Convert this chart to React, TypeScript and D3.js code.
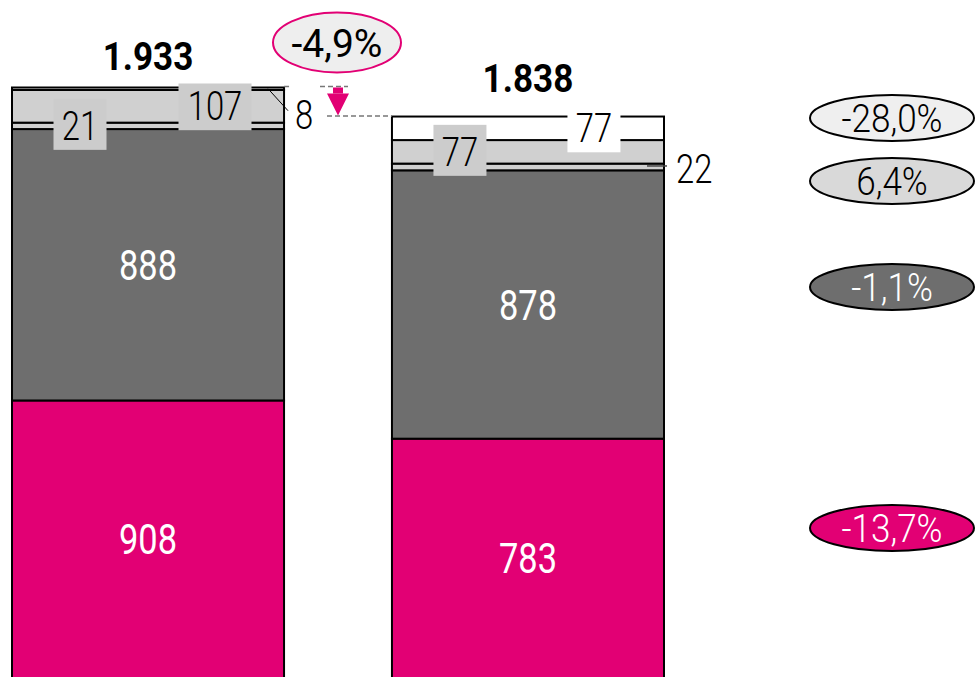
import {useEffect, useRef} from 'react';
import * as d3 from 'd3';

// two periods, stacked bottom -> top
const periods = ['prev', 'curr'];
const magentaValues = [908, 783];
const darkGrayValues = [888, 878];
const smallGrayValues = [21, 22];
const lightGrayValues = [107, 77];
const whiteValues = [8, 77];
const totalLabels = ['1.933', '1.838'];
const totalChange = '-4,9%';
const changeLabels = ['-28,0%', '6,4%', '-1,1%', '-13,7%'];

const FONT = 'Roboto, "Liberation Sans", Arial, sans-serif';
const MAGENTA = '#e20074';
const DARK = '#6e6e6e';
const LIGHT = '#d0d0d0';
const BOX = '#cccccc';

type TextOpts = {
    size: number;
    fill?: string;
    anchor?: string;
    weight?: string | number;
    sx?: number;
};

// text squeezed horizontally to mimic a condensed face
function addText(parent: any, x: number, y: number, label: string, o: TextOpts) {
    return parent
        .append('text')
        .attr('transform', `translate(${x},${y}) scale(${o.sx ?? 0.82},1)`)
        .attr('text-anchor', o.anchor ?? 'middle')
        .attr('fill', o.fill ?? '#000')
        .attr('font-family', FONT)
        .attr('font-weight', o.weight ?? 300)
        .attr('font-size', o.size)
        .text(label);
}

export default function App() {
    const ref = useRef<SVGSVGElement | null>(null);

    useEffect(() => {
        const width = 975;
        const height = 677;
        const svg = d3.select(ref.current);
        svg.selectAll('*').remove();
        svg.attr('viewBox', `0 0 ${width} ${height}`);

        const keys = ['magenta', 'dark', 'small', 'light', 'white'];
        const table = periods.map((p, i) => ({
            period: p,
            magenta: magentaValues[i],
            dark: darkGrayValues[i],
            small: smallGrayValues[i],
            light: lightGrayValues[i],
            white: whiteValues[i],
        }));
        const stacked = d3.stack<any>().keys(keys)(table);
        const fills: Record<string, string> = {
            magenta: MAGENTA,
            dark: DARK,
            small: LIGHT,
            light: LIGHT,
            white: '#ffffff',
        };

        const sums = table.map((d: any) => keys.reduce((s, k) => s + d[k], 0));

        const x = d3.scaleBand().domain(periods).range([12, 664]).paddingInner(0.284);
        const y = d3
            .scaleLinear()
            .domain([0, d3.max(sums) as number])
            .range([678, 87.5]);
        const bw = x.bandwidth();

        // bars
        stacked.forEach((layer) => {
            svg
                .append('g')
                .selectAll('rect')
                .data(layer)
                .enter()
                .append('rect')
                .attr('x', (d: any) => x(d.data.period) as number)
                .attr('y', (d) => y(d[1]))
                .attr('width', bw)
                .attr('height', (d) => y(d[0]) - y(d[1]))
                .attr('fill', fills[layer.key])
                .attr('stroke', '#000')
                .attr('stroke-width', 2);
        });

        const seg = (key: string, i: number) => stacked.find((l) => l.key === key)![i];
        const mid = (key: string, i: number) => (y(seg(key, i)[0]) + y(seg(key, i)[1])) / 2;

        // big white labels
        ['magenta', 'dark'].forEach((key) => {
            periods.forEach((p, i) => {
                const s = seg(key, i);
                addText(svg, (x(p) as number) + bw / 2, mid(key, i) + 15, String(s[1] - s[0]), {
                    size: 42,
                    fill: '#fff',
                    weight: 400,
                });
            });
        });

        // boxed labels inside the thin top segments
        const boxed = [
            {key: 'small', i: 0, dx: 68, fill: BOX},
            {key: 'light', i: 0, dx: 203, fill: BOX},
            {key: 'light', i: 1, dx: 68, fill: BOX},
            {key: 'white', i: 1, dx: 202, fill: '#ffffff'},
        ];
        boxed.forEach((b) => {
            const s = seg(b.key, b.i);
            const label = String(s[1] - s[0]);
            const cx = (x(periods[b.i]) as number) + b.dx;
            const cy = mid(b.key, b.i);
            const w = label.length > 2 ? 73 : 53;
            const top = Math.max(cy - 27, y(sums[b.i]) - 4);
            svg
                .append('rect')
                .attr('x', cx - w / 2)
                .attr('y', top)
                .attr('width', w)
                .attr('height', cy + 24 - top)
                .attr('fill', b.fill);
            addText(svg, cx, cy + 14, label, {size: 40});
        });

        // outside labels with leader lines
        const x0r = (x(periods[0]) as number) + bw;
        const m8 = mid('white', 0);
        svg
            .append('line')
            .attr('x1', x0r - 16)
            .attr('y1', m8)
            .attr('x2', x0r + 4)
            .attr('y2', m8 + 22)
            .attr('stroke', '#000')
            .attr('stroke-width', 1);
        addText(svg, x0r + 11, m8 + 40, String(whiteValues[0]), {size: 40, anchor: 'start'});

        const x1r = (x(periods[1]) as number) + bw;
        const m22 = mid('small', 1);
        svg
            .append('line')
            .attr('x1', x1r - 17)
            .attr('y1', m22 - 1)
            .attr('x2', x1r + 3)
            .attr('y2', m22 - 1)
            .attr('stroke', '#444')
            .attr('stroke-width', 1.5);
        addText(svg, x1r + 12, m22 + 16, String(smallGrayValues[1]), {size: 40, anchor: 'start'});

        // totals
        const totalOffsets = [17.5, 25];
        periods.forEach((p, i) => {
            addText(svg, (x(p) as number) + bw / 2, y(sums[i]) - totalOffsets[i], totalLabels[i], {
                size: 39,
                weight: 'bold',
                sx: 0.9,
            });
        });

        // change arrow between the bar tops
        const ax = 338;
        const yTop1 = y(sums[0]);
        const yTop2 = y(sums[1]);
        const dashed = (x1: number, x2: number, yy: number) =>
            svg
                .append('line')
                .attr('x1', x1)
                .attr('x2', x2)
                .attr('y1', yy)
                .attr('y2', yy)
                .attr('stroke', '#777')
                .attr('stroke-width', 1.5)
                .attr('stroke-dasharray', '5,3');
        dashed(x0r, x0r + 7, yTop1 - 1);
        dashed(320, 348, yTop1 - 1);
        dashed(327, x(periods[1]) as number, yTop2 - 0.5);

        svg
            .append('rect')
            .attr('x', ax - 5)
            .attr('y', yTop1)
            .attr('width', 10)
            .attr('height', 6)
            .attr('fill', MAGENTA);
        svg
            .append('path')
            .attr('d', `M${ax - 11},${yTop1 + 6}L${ax + 11},${yTop1 + 6}L${ax},${yTop2 - 1}Z`)
            .attr('fill', MAGENTA);

        svg
            .append('ellipse')
            .attr('cx', 337)
            .attr('cy', 42.5)
            .attr('rx', 64)
            .attr('ry', 30)
            .attr('fill', '#eeeeee')
            .attr('stroke', MAGENTA)
            .attr('stroke-width', 2);
        addText(svg, 337, 57, totalChange, {size: 39, sx: 1, weight: 400});

        // change bubbles on the right
        const bubbleY = [118, 181, 287, 528];
        const bubbleFill = ['#efefef', '#d9d9d9', DARK, MAGENTA];
        const bubbleText = ['#000', '#000', '#fff', '#fff'];
        const g = svg.append('g');
        g.selectAll('ellipse')
            .data(changeLabels)
            .enter()
            .append('ellipse')
            .attr('cx', 892)
            .attr('cy', (d, i) => bubbleY[i])
            .attr('rx', 82)
            .attr('ry', 23)
            .attr('fill', (d, i) => bubbleFill[i])
            .attr('stroke', '#000')
            .attr('stroke-width', 2);
        changeLabels.forEach((lab, i) => {
            addText(g, 892, bubbleY[i] + 14, lab, {size: 39, fill: bubbleText[i], sx: 0.9});
        });
    }, []);

    return (
        <svg
            ref={ref}
            width={975}
            height={677}
            style={{position: 'absolute', left: 0, top: 0, display: 'block'}}
        ></svg>
    );
}
